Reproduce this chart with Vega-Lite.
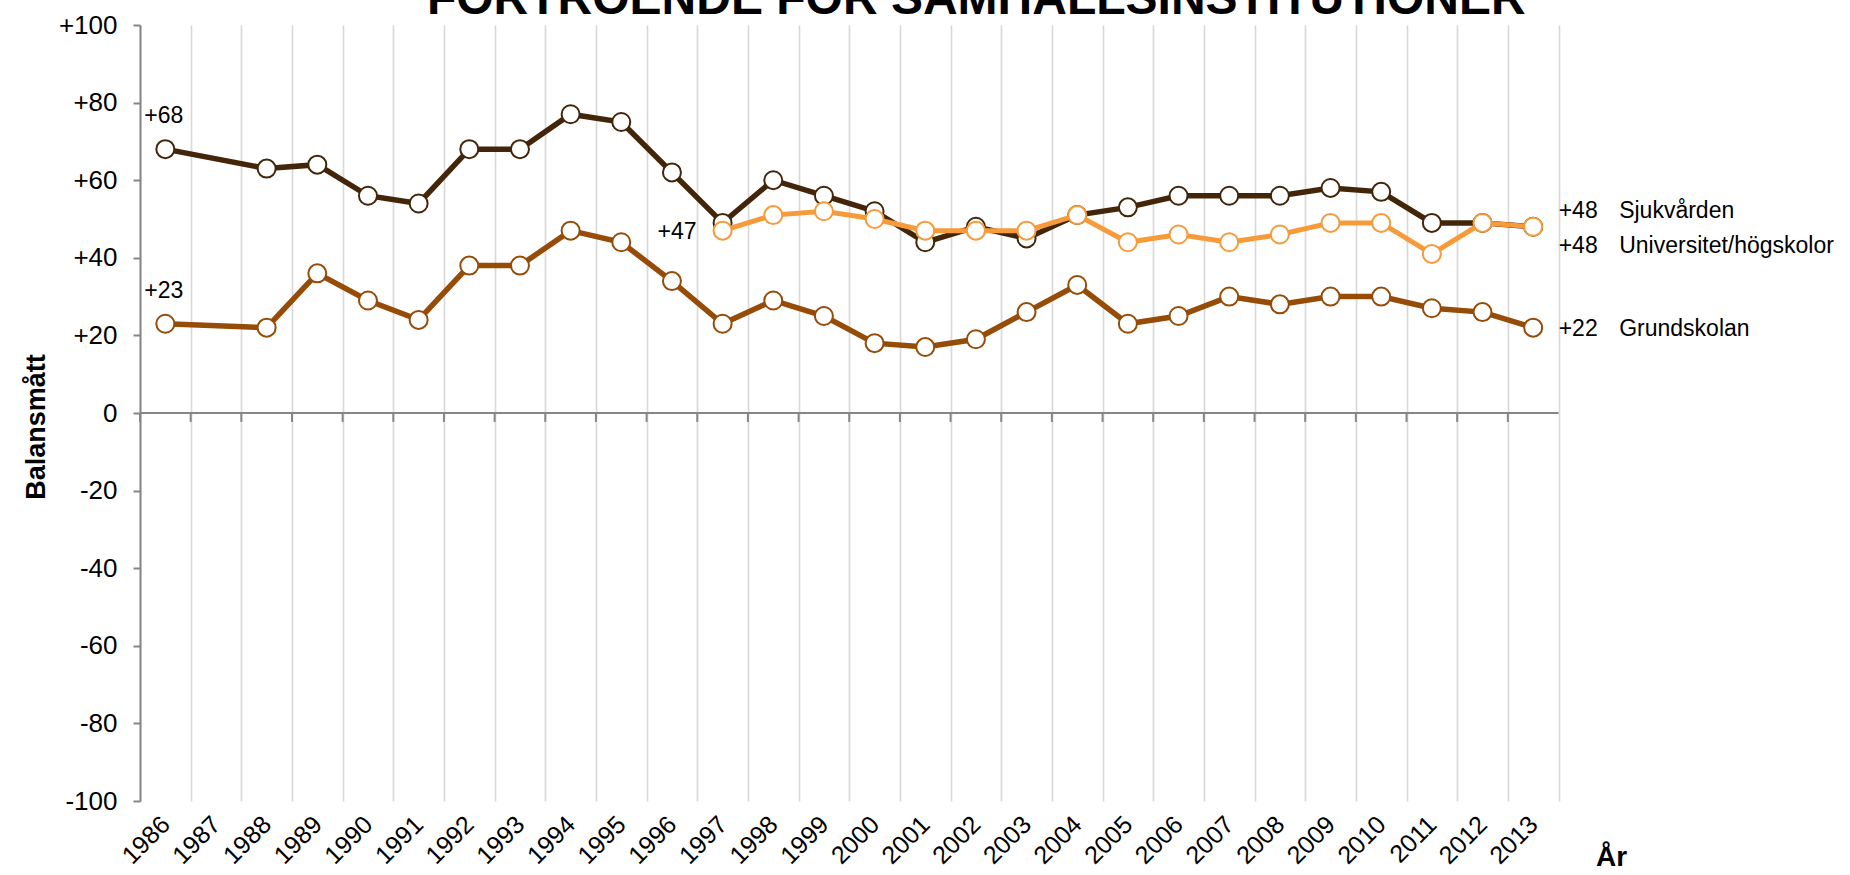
{
  "$schema": "https://vega.github.io/schema/vega-lite/v6.json",
  "autosize": "none",
  "width": 1418.5,
  "height": 776,
  "padding": {"left": 140, "top": 25, "right": 291.5, "bottom": 74},
  "background": "white",
  "config": {"font": "Liberation Sans", "view": {"stroke": null}},
  "title": {"text": "FÖRTROENDE FÖR SAMHÄLLSINSTITUTIONER", "font": "Liberation Sans", "fontSize": 48, "fontWeight": "bold", "color": "#000000", "anchor": "middle", "frame": "group", "baseline": "alphabetic", "offset": 0, "dx": 127, "dy": 50},
  "datasets": {
    "years": [
      {"year": 1986}, {"year": 1987}, {"year": 1988}, {"year": 1989}, {"year": 1990}, {"year": 1991}, {"year": 1992},
      {"year": 1993}, {"year": 1994}, {"year": 1995}, {"year": 1996}, {"year": 1997}, {"year": 1998}, {"year": 1999},
      {"year": 2000}, {"year": 2001}, {"year": 2002}, {"year": 2003}, {"year": 2004}, {"year": 2005}, {"year": 2006},
      {"year": 2007}, {"year": 2008}, {"year": 2009}, {"year": 2010}, {"year": 2011}, {"year": 2012}, {"year": 2013}
    ],
    "main": [
      {"year": 1986, "series": "Sjukvården", "value": 68},
      {"year": 1988, "series": "Sjukvården", "value": 63},
      {"year": 1989, "series": "Sjukvården", "value": 64},
      {"year": 1990, "series": "Sjukvården", "value": 56},
      {"year": 1991, "series": "Sjukvården", "value": 54},
      {"year": 1992, "series": "Sjukvården", "value": 68},
      {"year": 1993, "series": "Sjukvården", "value": 68},
      {"year": 1994, "series": "Sjukvården", "value": 77},
      {"year": 1995, "series": "Sjukvården", "value": 75},
      {"year": 1996, "series": "Sjukvården", "value": 62},
      {"year": 1997, "series": "Sjukvården", "value": 49},
      {"year": 1998, "series": "Sjukvården", "value": 60},
      {"year": 1999, "series": "Sjukvården", "value": 56},
      {"year": 2000, "series": "Sjukvården", "value": 52},
      {"year": 2001, "series": "Sjukvården", "value": 44},
      {"year": 2002, "series": "Sjukvården", "value": 48},
      {"year": 2003, "series": "Sjukvården", "value": 45},
      {"year": 2004, "series": "Sjukvården", "value": 51},
      {"year": 2005, "series": "Sjukvården", "value": 53},
      {"year": 2006, "series": "Sjukvården", "value": 56},
      {"year": 2007, "series": "Sjukvården", "value": 56},
      {"year": 2008, "series": "Sjukvården", "value": 56},
      {"year": 2009, "series": "Sjukvården", "value": 58},
      {"year": 2010, "series": "Sjukvården", "value": 57},
      {"year": 2011, "series": "Sjukvården", "value": 49},
      {"year": 2012, "series": "Sjukvården", "value": 49},
      {"year": 2013, "series": "Sjukvården", "value": 48},
      {"year": 1986, "series": "Grundskolan", "value": 23},
      {"year": 1988, "series": "Grundskolan", "value": 22},
      {"year": 1989, "series": "Grundskolan", "value": 36},
      {"year": 1990, "series": "Grundskolan", "value": 29},
      {"year": 1991, "series": "Grundskolan", "value": 24},
      {"year": 1992, "series": "Grundskolan", "value": 38},
      {"year": 1993, "series": "Grundskolan", "value": 38},
      {"year": 1994, "series": "Grundskolan", "value": 47},
      {"year": 1995, "series": "Grundskolan", "value": 44},
      {"year": 1996, "series": "Grundskolan", "value": 34},
      {"year": 1997, "series": "Grundskolan", "value": 23},
      {"year": 1998, "series": "Grundskolan", "value": 29},
      {"year": 1999, "series": "Grundskolan", "value": 25},
      {"year": 2000, "series": "Grundskolan", "value": 18},
      {"year": 2001, "series": "Grundskolan", "value": 17},
      {"year": 2002, "series": "Grundskolan", "value": 19},
      {"year": 2003, "series": "Grundskolan", "value": 26},
      {"year": 2004, "series": "Grundskolan", "value": 33},
      {"year": 2005, "series": "Grundskolan", "value": 23},
      {"year": 2006, "series": "Grundskolan", "value": 25},
      {"year": 2007, "series": "Grundskolan", "value": 30},
      {"year": 2008, "series": "Grundskolan", "value": 28},
      {"year": 2009, "series": "Grundskolan", "value": 30},
      {"year": 2010, "series": "Grundskolan", "value": 30},
      {"year": 2011, "series": "Grundskolan", "value": 27},
      {"year": 2012, "series": "Grundskolan", "value": 26},
      {"year": 2013, "series": "Grundskolan", "value": 22},
      {"year": 1997, "series": "Universitet/högskolor", "value": 47},
      {"year": 1998, "series": "Universitet/högskolor", "value": 51},
      {"year": 1999, "series": "Universitet/högskolor", "value": 52},
      {"year": 2000, "series": "Universitet/högskolor", "value": 50},
      {"year": 2001, "series": "Universitet/högskolor", "value": 47},
      {"year": 2002, "series": "Universitet/högskolor", "value": 47},
      {"year": 2003, "series": "Universitet/högskolor", "value": 47},
      {"year": 2004, "series": "Universitet/högskolor", "value": 51},
      {"year": 2005, "series": "Universitet/högskolor", "value": 44},
      {"year": 2006, "series": "Universitet/högskolor", "value": 46},
      {"year": 2007, "series": "Universitet/högskolor", "value": 44},
      {"year": 2008, "series": "Universitet/högskolor", "value": 46},
      {"year": 2009, "series": "Universitet/högskolor", "value": 49},
      {"year": 2010, "series": "Universitet/högskolor", "value": 49},
      {"year": 2011, "series": "Universitet/högskolor", "value": 41},
      {"year": 2012, "series": "Universitet/högskolor", "value": 49},
      {"year": 2013, "series": "Universitet/högskolor", "value": 48}
    ]
  },
  "layer": [
    {
      "data": {"name": "main"},
      "transform": [{"filter": "datum.series === 'Sjukvården'"}],
      "mark": {"type": "line", "color": "#432609", "strokeWidth": 5.5},
      "encoding": {
        "x": {"field": "year", "type": "ordinal", "bandPosition": 0.5,
          "scale": {"type": "band", "domain": [1986,1987,1988,1989,1990,1991,1992,1993,1994,1995,1996,1997,1998,1999,2000,2001,2002,2003,2004,2005,2006,2007,2008,2009,2010,2011,2012,2013], "paddingInner": 0, "paddingOuter": 0},
          "axis": {"title": "År", "titleFont": "Liberation Sans", "titleFontSize": 28, "titleFontWeight": "bold", "titleColor": "#000000", "titleX": 1471, "titleY": 64, "titleAlign": "center", "titleBaseline": "alphabetic", "titleAngle": 0,
            "domain": false, "ticks": false, "tickSize": 0, "tickBand": "extent", "grid": true, "gridColor": "#d9d9d9", "gridWidth": 1.7,
            "labelAngle": -45, "labelAlign": "right", "labelBaseline": "middle", "labelFont": "Liberation Sans", "labelFontSize": 25, "labelColor": "#000000", "labelPadding": 19, "labelOverlap": false, "labelFlush": false, "labelBound": false}},
        "y": {"field": "value", "type": "quantitative", "scale": {"domain": [-100, 100], "nice": false, "zero": false},
          "axis": {"title": "Balansmått", "titleFont": "Liberation Sans", "titleFontSize": 27, "titleFontWeight": "bold", "titleColor": "#000000", "titleAngle": -90, "titleAlign": "center", "titleBaseline": "alphabetic", "titleX": -96, "titleY": 401.5,
            "values": [-100, -80, -60, -40, -20, 0, 20, 40, 60, 80, 100],
            "labelExpr": "datum.value > 0 ? '+' + datum.value : '' + datum.value",
            "labelFont": "Liberation Sans", "labelFontSize": 26, "labelColor": "#000000", "labelPadding": 16, "labelFlush": false, "labelOverlap": false,
            "tickSize": 7, "tickColor": "#868686", "tickWidth": 2, "domainColor": "#868686", "domainWidth": 2, "grid": false}}
      }
    },
    {
      "data": {"name": "years"},
      "transform": [{"filter": "datum.year === 1986"}],
      "mark": {"type": "rule", "stroke": "#868686", "strokeWidth": 2},
      "encoding": {
        "y": {"datum": 0, "type": "quantitative", "scale": {"domain": [-100, 100], "nice": false, "zero": false}}
      }
    },
    {
      "data": {"name": "years"},
      "mark": {"type": "rule", "stroke": "#868686", "strokeWidth": 2},
      "encoding": {
        "x": {"field": "year", "type": "ordinal", "bandPosition": 0,
          "scale": {"type": "band", "domain": [1986,1987,1988,1989,1990,1991,1992,1993,1994,1995,1996,1997,1998,1999,2000,2001,2002,2003,2004,2005,2006,2007,2008,2009,2010,2011,2012,2013], "paddingInner": 0, "paddingOuter": 0}},
        "y": {"datum": 0, "type": "quantitative", "scale": {"domain": [-100, 100], "nice": false, "zero": false}},
        "y2": {"datum": -2.3}
      }
    },
    {
      "data": {"name": "main"},
      "transform": [{"filter": "datum.series === 'Sjukvården'"}],
      "mark": {"type": "point", "shape": "circle", "filled": true, "fill": "#ffffff", "stroke": "#432609", "strokeWidth": 2, "size": 324, "opacity": 1},
      "encoding": {
        "x": {"field": "year", "type": "ordinal", "bandPosition": 0.5, "scale": {"type": "band", "domain": [1986,1987,1988,1989,1990,1991,1992,1993,1994,1995,1996,1997,1998,1999,2000,2001,2002,2003,2004,2005,2006,2007,2008,2009,2010,2011,2012,2013], "paddingInner": 0, "paddingOuter": 0}},
        "y": {"field": "value", "type": "quantitative", "scale": {"domain": [-100, 100], "nice": false, "zero": false}}
      }
    },
    {
      "data": {"name": "main"},
      "transform": [{"filter": "datum.series === 'Grundskolan'"}],
      "mark": {"type": "line", "color": "#964B06", "strokeWidth": 5.5},
      "encoding": {
        "x": {"field": "year", "type": "ordinal", "bandPosition": 0.5, "scale": {"type": "band", "domain": [1986,1987,1988,1989,1990,1991,1992,1993,1994,1995,1996,1997,1998,1999,2000,2001,2002,2003,2004,2005,2006,2007,2008,2009,2010,2011,2012,2013], "paddingInner": 0, "paddingOuter": 0}},
        "y": {"field": "value", "type": "quantitative", "scale": {"domain": [-100, 100], "nice": false, "zero": false}}
      }
    },
    {
      "data": {"name": "main"},
      "transform": [{"filter": "datum.series === 'Grundskolan'"}],
      "mark": {"type": "point", "shape": "circle", "filled": true, "fill": "#ffffff", "stroke": "#964B06", "strokeWidth": 2, "size": 324, "opacity": 1},
      "encoding": {
        "x": {"field": "year", "type": "ordinal", "bandPosition": 0.5, "scale": {"type": "band", "domain": [1986,1987,1988,1989,1990,1991,1992,1993,1994,1995,1996,1997,1998,1999,2000,2001,2002,2003,2004,2005,2006,2007,2008,2009,2010,2011,2012,2013], "paddingInner": 0, "paddingOuter": 0}},
        "y": {"field": "value", "type": "quantitative", "scale": {"domain": [-100, 100], "nice": false, "zero": false}}
      }
    },
    {
      "data": {"name": "main"},
      "transform": [{"filter": "datum.series === 'Universitet/högskolor'"}],
      "mark": {"type": "line", "color": "#F79A3A", "strokeWidth": 5},
      "encoding": {
        "x": {"field": "year", "type": "ordinal", "bandPosition": 0.5, "scale": {"type": "band", "domain": [1986,1987,1988,1989,1990,1991,1992,1993,1994,1995,1996,1997,1998,1999,2000,2001,2002,2003,2004,2005,2006,2007,2008,2009,2010,2011,2012,2013], "paddingInner": 0, "paddingOuter": 0}},
        "y": {"field": "value", "type": "quantitative", "scale": {"domain": [-100, 100], "nice": false, "zero": false}}
      }
    },
    {
      "data": {"name": "main"},
      "transform": [{"filter": "datum.series === 'Universitet/högskolor'"}],
      "mark": {"type": "point", "shape": "circle", "filled": true, "fill": "#ffffff", "stroke": "#F79A3A", "strokeWidth": 2, "size": 324, "opacity": 1},
      "encoding": {
        "x": {"field": "year", "type": "ordinal", "bandPosition": 0.5, "scale": {"type": "band", "domain": [1986,1987,1988,1989,1990,1991,1992,1993,1994,1995,1996,1997,1998,1999,2000,2001,2002,2003,2004,2005,2006,2007,2008,2009,2010,2011,2012,2013], "paddingInner": 0, "paddingOuter": 0}},
        "y": {"field": "value", "type": "quantitative", "scale": {"domain": [-100, 100], "nice": false, "zero": false}}
      }
    },
    {
      "data": {"name": "main"},
      "transform": [{"filter": "datum.year === 1986"}],
      "mark": {"type": "text", "align": "left", "baseline": "alphabetic", "dx": -21, "dy": -26, "fontSize": 23, "font": "Liberation Sans", "color": "#000000"},
      "encoding": {
        "x": {"field": "year", "type": "ordinal", "bandPosition": 0.5, "scale": {"type": "band", "domain": [1986,1987,1988,1989,1990,1991,1992,1993,1994,1995,1996,1997,1998,1999,2000,2001,2002,2003,2004,2005,2006,2007,2008,2009,2010,2011,2012,2013], "paddingInner": 0, "paddingOuter": 0}},
        "y": {"field": "value", "type": "quantitative", "scale": {"domain": [-100, 100], "nice": false, "zero": false}},
        "text": {"field": "value", "type": "quantitative", "format": "+d"}
      }
    },
    {
      "data": {"name": "main"},
      "transform": [{"filter": "datum.year === 1997 && datum.series === 'Universitet/högskolor'"}],
      "mark": {"type": "text", "align": "right", "baseline": "alphabetic", "dx": -26, "dy": 8.5, "fontSize": 23, "font": "Liberation Sans", "color": "#000000"},
      "encoding": {
        "x": {"field": "year", "type": "ordinal", "bandPosition": 0.5, "scale": {"type": "band", "domain": [1986,1987,1988,1989,1990,1991,1992,1993,1994,1995,1996,1997,1998,1999,2000,2001,2002,2003,2004,2005,2006,2007,2008,2009,2010,2011,2012,2013], "paddingInner": 0, "paddingOuter": 0}},
        "y": {"field": "value", "type": "quantitative", "scale": {"domain": [-100, 100], "nice": false, "zero": false}},
        "text": {"field": "value", "type": "quantitative", "format": "+d"}
      }
    },
    {
      "data": {"name": "main"},
      "transform": [{"filter": "datum.year === 2013 && datum.series === 'Sjukvården'"}],
      "mark": {"type": "text", "align": "left", "baseline": "alphabetic", "dx": 25.5, "dy": -8.5, "fontSize": 23, "font": "Liberation Sans", "color": "#000000"},
      "encoding": {
        "x": {"field": "year", "type": "ordinal", "bandPosition": 0.5, "scale": {"type": "band", "domain": [1986,1987,1988,1989,1990,1991,1992,1993,1994,1995,1996,1997,1998,1999,2000,2001,2002,2003,2004,2005,2006,2007,2008,2009,2010,2011,2012,2013], "paddingInner": 0, "paddingOuter": 0}},
        "y": {"field": "value", "type": "quantitative", "scale": {"domain": [-100, 100], "nice": false, "zero": false}},
        "text": {"field": "value", "type": "quantitative", "format": "+d"}
      }
    },
    {
      "data": {"name": "main"},
      "transform": [{"filter": "datum.year === 2013 && datum.series === 'Sjukvården'"}],
      "mark": {"type": "text", "align": "left", "baseline": "alphabetic", "dx": 86, "dy": -8.5, "fontSize": 23, "font": "Liberation Sans", "color": "#000000"},
      "encoding": {
        "x": {"field": "year", "type": "ordinal", "bandPosition": 0.5, "scale": {"type": "band", "domain": [1986,1987,1988,1989,1990,1991,1992,1993,1994,1995,1996,1997,1998,1999,2000,2001,2002,2003,2004,2005,2006,2007,2008,2009,2010,2011,2012,2013], "paddingInner": 0, "paddingOuter": 0}},
        "y": {"field": "value", "type": "quantitative", "scale": {"domain": [-100, 100], "nice": false, "zero": false}},
        "text": {"field": "series", "type": "nominal"}
      }
    },
    {
      "data": {"name": "main"},
      "transform": [{"filter": "datum.year === 2013 && datum.series === 'Universitet/högskolor'"}],
      "mark": {"type": "text", "align": "left", "baseline": "alphabetic", "dx": 25.5, "dy": 26, "fontSize": 23, "font": "Liberation Sans", "color": "#000000"},
      "encoding": {
        "x": {"field": "year", "type": "ordinal", "bandPosition": 0.5, "scale": {"type": "band", "domain": [1986,1987,1988,1989,1990,1991,1992,1993,1994,1995,1996,1997,1998,1999,2000,2001,2002,2003,2004,2005,2006,2007,2008,2009,2010,2011,2012,2013], "paddingInner": 0, "paddingOuter": 0}},
        "y": {"field": "value", "type": "quantitative", "scale": {"domain": [-100, 100], "nice": false, "zero": false}},
        "text": {"field": "value", "type": "quantitative", "format": "+d"}
      }
    },
    {
      "data": {"name": "main"},
      "transform": [{"filter": "datum.year === 2013 && datum.series === 'Universitet/högskolor'"}],
      "mark": {"type": "text", "align": "left", "baseline": "alphabetic", "dx": 86, "dy": 26, "fontSize": 23, "font": "Liberation Sans", "color": "#000000"},
      "encoding": {
        "x": {"field": "year", "type": "ordinal", "bandPosition": 0.5, "scale": {"type": "band", "domain": [1986,1987,1988,1989,1990,1991,1992,1993,1994,1995,1996,1997,1998,1999,2000,2001,2002,2003,2004,2005,2006,2007,2008,2009,2010,2011,2012,2013], "paddingInner": 0, "paddingOuter": 0}},
        "y": {"field": "value", "type": "quantitative", "scale": {"domain": [-100, 100], "nice": false, "zero": false}},
        "text": {"field": "series", "type": "nominal"}
      }
    },
    {
      "data": {"name": "main"},
      "transform": [{"filter": "datum.year === 2013 && datum.series === 'Grundskolan'"}],
      "mark": {"type": "text", "align": "left", "baseline": "alphabetic", "dx": 25.5, "dy": 8.5, "fontSize": 23, "font": "Liberation Sans", "color": "#000000"},
      "encoding": {
        "x": {"field": "year", "type": "ordinal", "bandPosition": 0.5, "scale": {"type": "band", "domain": [1986,1987,1988,1989,1990,1991,1992,1993,1994,1995,1996,1997,1998,1999,2000,2001,2002,2003,2004,2005,2006,2007,2008,2009,2010,2011,2012,2013], "paddingInner": 0, "paddingOuter": 0}},
        "y": {"field": "value", "type": "quantitative", "scale": {"domain": [-100, 100], "nice": false, "zero": false}},
        "text": {"field": "value", "type": "quantitative", "format": "+d"}
      }
    },
    {
      "data": {"name": "main"},
      "transform": [{"filter": "datum.year === 2013 && datum.series === 'Grundskolan'"}],
      "mark": {"type": "text", "align": "left", "baseline": "alphabetic", "dx": 86, "dy": 8.5, "fontSize": 23, "font": "Liberation Sans", "color": "#000000"},
      "encoding": {
        "x": {"field": "year", "type": "ordinal", "bandPosition": 0.5, "scale": {"type": "band", "domain": [1986,1987,1988,1989,1990,1991,1992,1993,1994,1995,1996,1997,1998,1999,2000,2001,2002,2003,2004,2005,2006,2007,2008,2009,2010,2011,2012,2013], "paddingInner": 0, "paddingOuter": 0}},
        "y": {"field": "value", "type": "quantitative", "scale": {"domain": [-100, 100], "nice": false, "zero": false}},
        "text": {"field": "series", "type": "nominal"}
      }
    }
  ]
}
